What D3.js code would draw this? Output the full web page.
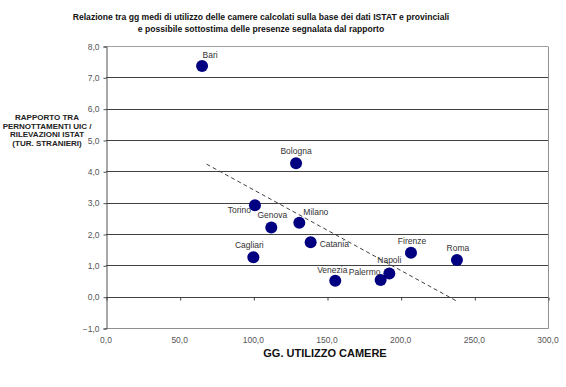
<!DOCTYPE html>
<html>
<head>
<meta charset="utf-8">
<script src="https://cdn.jsdelivr.net/npm/d3@7"></script>
<style>
  body { margin: 0; background: #fff; }
  svg { display: block; font-family: Arial, "Liberation Sans", sans-serif; }
</style>
</head>
<body>
<svg id="chart" width="566" height="387"></svg>
<script>
// data
var cities = ['Bari', 'Bologna', 'Torino', 'Genova', 'Milano', 'Catania', 'Cagliari', 'Venezia', 'Palermo', 'Napoli', 'Firenze', 'Roma'];
var ggCamere = [65.2, 129.0, 101.1, 112.2, 131.2, 138.9, 100.0, 155.6, 186.4, 192.3, 207.0, 238.2];
var rapporto = [7.36, 4.26, 2.92, 2.21, 2.36, 1.74, 1.26, 0.51, 0.53, 0.74, 1.40, 1.17];
var trendX = [68.3, 238.4];
var trendY = [4.23, -0.15];
var xTicks = [0, 50, 100, 150, 200, 250, 300];
var yTicks = [-1, 0, 1, 2, 3, 4, 5, 6, 7, 8];

// label offsets (px) relative to the marker centre
var labelPos = {
  Bari: [8, -8, 'middle'], Bologna: [0, -9, 'middle'], Torino: [-4, 8, 'end'],
  Genova: [1, -9, 'middle'], Milano: [4, -8, 'start'], Catania: [9, 5, 'start'],
  Cagliari: [-4, -9, 'middle'], Venezia: [-3, -8, 'middle'], Palermo: [-16, -5, 'middle'],
  Napoli: [0, -10, 'middle'], Firenze: [1, -9, 'middle'], Roma: [1, -9, 'middle']
};

(function () {
  'use strict';

  var svg = d3.select('#chart');
  var m = { left: 106, right: 548, top: 46, bottom: 328 };

  var x = d3.scaleLinear().domain([0, 300]).range([m.left, m.right]);
  var y = d3.scaleLinear().domain([-1, 8]).range([m.bottom, m.top]);
  var fmt = function(d){ return d3.format('.1f')(d).replace('.', ','); };

  // gridlines
  svg.append('g')
    .selectAll('line')
    .data(yTicks.filter(function(d){ return d > -1; }))
    .enter().append('line')
    .attr('x1', m.left).attr('x2', m.right)
    .attr('y1', function(d){ return Math.round(y(d)) + 0.5; })
    .attr('y2', function(d){ return Math.round(y(d)) + 0.5; })
    .attr('stroke', function(d){ return d === 8 ? '#a0a0a0' : '#404040'; })
    .attr('stroke-width', 1);

  // plot border (right, bottom)
  svg.append('path')
    .attr('d', 'M' + (m.right + 0.5) + ',' + (m.top + 0.5) + 'V' + (m.bottom + 0.5) + 'H' + m.left)
    .attr('fill', 'none')
    .attr('stroke', '#909090');

  // y axis
  var yAxis = d3.axisLeft(y).tickValues(yTicks).tickSize(3).tickPadding(4).tickFormat(fmt);
  var gy = svg.append('g').attr('transform', 'translate(' + (m.left + 0.5) + ',0.5)').call(yAxis);
  gy.select('.domain').attr('stroke', '#505050');
  gy.selectAll('.tick line').attr('stroke', '#505050');
  gy.selectAll('.tick text').attr('fill', '#555').style('font-size', '8.5px');

  // x axis ticks cross at zero
  var xAxis = d3.axisBottom(x).tickValues(xTicks).tickSize(3).tickFormat('');
  var gx = svg.append('g').attr('transform', 'translate(0.5,' + (Math.round(y(0)) + 0.5) + ')').call(xAxis);
  gx.select('.domain').remove();
  gx.selectAll('.tick line').attr('stroke', '#404040');

  // x tick labels at bottom
  svg.append('g')
    .selectAll('text')
    .data(xTicks)
    .enter().append('text')
    .attr('x', function(d){ return x(d); })
    .attr('y', m.bottom + 15)
    .attr('text-anchor', 'middle')
    .attr('fill', '#555')
    .style('font-size', '8.5px')
    .text(fmt);

  // trend line
  svg.append('line')
    .attr('x1', x(trendX[0])).attr('y1', y(trendY[0]))
    .attr('x2', x(trendX[1])).attr('y2', y(trendY[1]))
    .attr('stroke', '#404040')
    .attr('stroke-width', 1)
    .style('stroke-dasharray', '4, 3');

  // points
  svg.append('g')
    .selectAll('circle')
    .data(cities)
    .enter().append('circle')
    .attr('cx', function(d, i){ return x(ggCamere[i]); })
    .attr('cy', function(d, i){ return y(rapporto[i]); })
    .attr('r', 6)
    .attr('fill', '#000080');

  // point labels
  svg.append('g')
    .selectAll('text')
    .data(cities)
    .enter().append('text')
    .attr('x', function(d, i){ return x(ggCamere[i]) + labelPos[d][0]; })
    .attr('y', function(d, i){ return y(rapporto[i]) + labelPos[d][1]; })
    .attr('text-anchor', function(d){ return labelPos[d][2]; })
    .attr('fill', '#333')
    .style('font-size', '8.5px')
    .text(function(d){ return d; });

  // title
  var title = svg.append('text')
    .attr('x', 261).attr('y', 20)
    .attr('text-anchor', 'middle')
    .style('font-size', '8.6px')
    .style('font-weight', 'bold')
    .attr('fill', '#111');
  title.append('tspan').attr('x', 261).text('Relazione tra gg medi di utilizzo delle camere calcolati sulla base dei dati ISTAT e provinciali');
  title.append('tspan').attr('x', 261).attr('dy', 12).text('e possibile sottostima delle presenze segnalata dal rapporto');

  // x axis title
  svg.append('text')
    .attr('x', 325).attr('y', 357)
    .attr('text-anchor', 'middle')
    .style('font-size', '11px')
    .style('font-weight', 'bold')
    .attr('fill', '#111')
    .text('GG. UTILIZZO CAMERE');

  // y axis title
  var yTitle = ['RAPPORTO TRA', 'PERNOTTAMENTI UIC /', 'RILEVAZIONI ISTAT', '(TUR. STRANIERI)'];
  svg.append('g')
    .selectAll('text')
    .data(yTitle)
    .enter().append('text')
    .attr('x', 47)
    .attr('y', function(d, i){ return 120 + i * 8.5; })
    .attr('text-anchor', 'middle')
    .style('font-size', '8px')
    .style('font-weight', 'bold')
    .attr('fill', '#222')
    .text(function(d){ return d; });
})();
</script>
</body>
</html>
